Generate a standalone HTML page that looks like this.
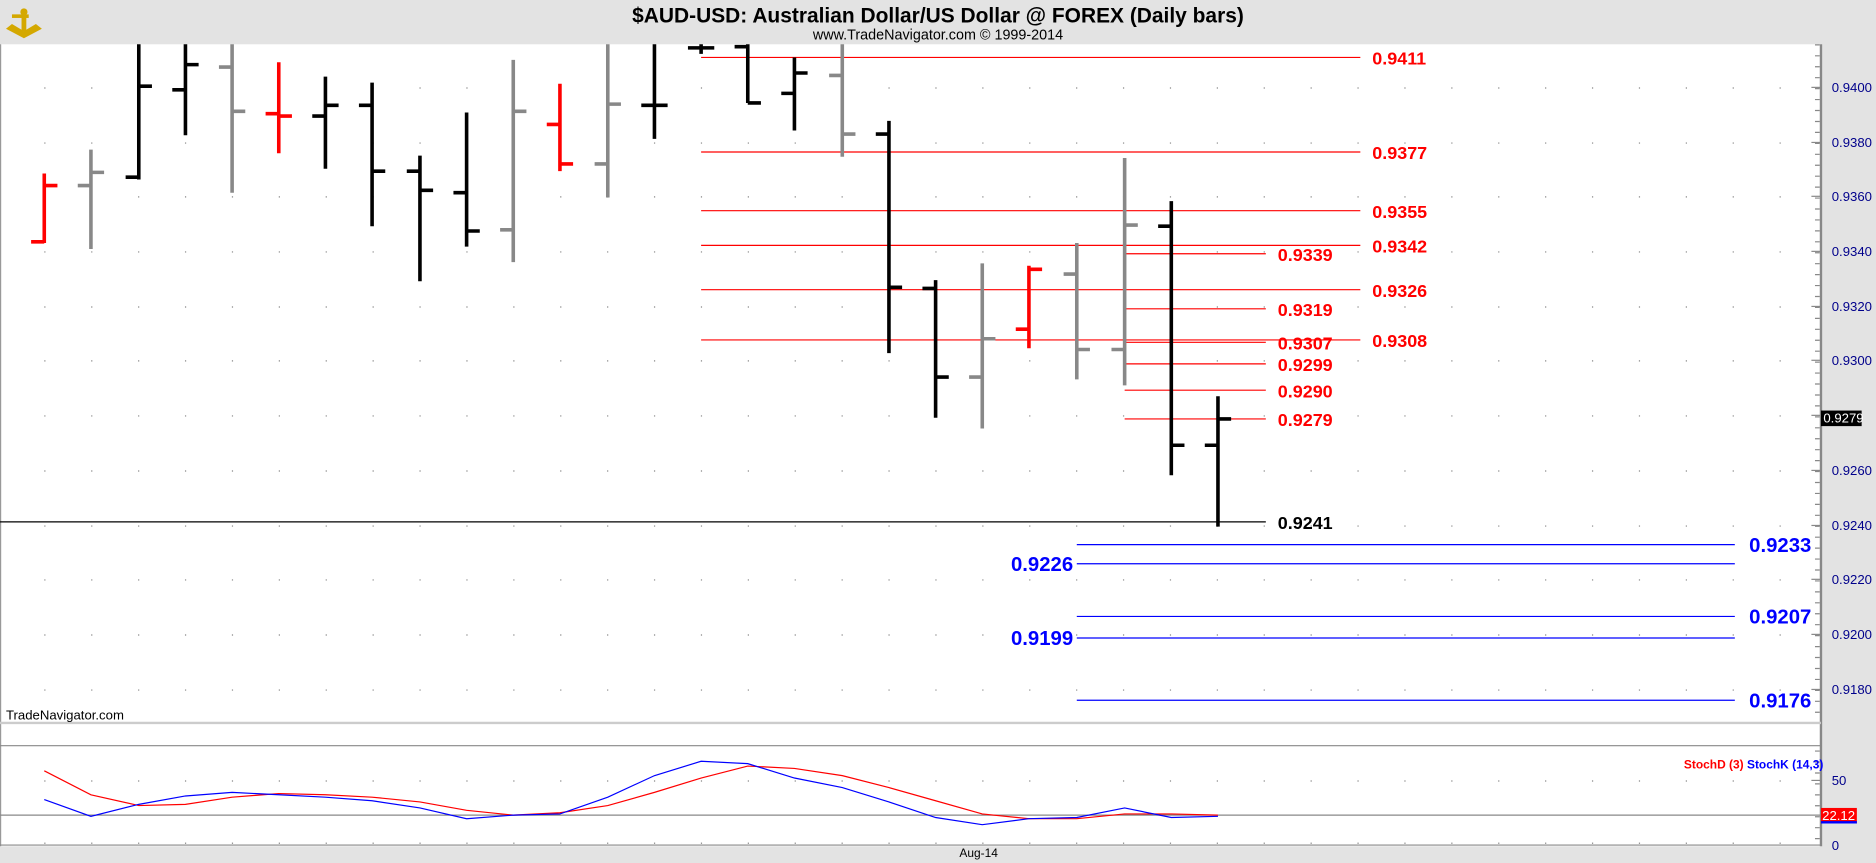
<!DOCTYPE html>
<html><head><meta charset="utf-8"><style>html,body{margin:0;padding:0;background:#e3e3e3;overflow:hidden}svg{display:block}</style></head><body>
<svg width="1876" height="863" viewBox="0 0 1568 721" preserveAspectRatio="none" xmlns="http://www.w3.org/2000/svg" font-family="Liberation Sans, sans-serif">
<rect x="0" y="0" width="1568" height="721" fill="#e3e3e3"/>
<rect x="0" y="37" width="1522" height="670" fill="#fff"/>
<line x1="0.5" y1="37" x2="0.5" y2="707" stroke="#999"/>
<line x1="1522" y1="37" x2="1522" y2="707" stroke="#888" stroke-width="2"/>
<line x1="0" y1="604" x2="1522" y2="604" stroke="#ccc" stroke-width="2"/>
<line x1="0" y1="623" x2="1522" y2="623" stroke="#888"/>
<line x1="0" y1="706" x2="1522" y2="706" stroke="#888"/>
<text x="784" y="19" text-anchor="middle" font-size="17.5" font-weight="bold">$AUD-USD:  Australian Dollar/US Dollar @ FOREX  (Daily bars)</text>
<text x="784" y="33" text-anchor="middle" font-size="12">www.TradeNavigator.com © 1999-2014</text>
<g fill="#d4a800"><circle cx="20" cy="10" r="3"/><rect x="18" y="10" width="4" height="16"/><rect x="10" y="12" width="14" height="3"/><polygon points="5,24 20,32 35,24 30,20 20,26 10,20"/></g>
<g stroke="#999" stroke-width="1.2" stroke-dasharray="1 38.2" fill="none">
<line x1="37" y1="73.5" x2="1522" y2="73.5"/><line x1="37" y1="119.5" x2="1522" y2="119.5"/><line x1="37" y1="164.5" x2="1522" y2="164.5"/><line x1="37" y1="210.5" x2="1522" y2="210.5"/><line x1="37" y1="256.5" x2="1522" y2="256.5"/><line x1="37" y1="301.5" x2="1522" y2="301.5"/><line x1="37" y1="347.5" x2="1522" y2="347.5"/><line x1="37" y1="393.5" x2="1522" y2="393.5"/><line x1="37" y1="439.5" x2="1522" y2="439.5"/><line x1="37" y1="484.5" x2="1522" y2="484.5"/><line x1="37" y1="530.5" x2="1522" y2="530.5"/><line x1="37" y1="576.5" x2="1522" y2="576.5"/><line x1="37" y1="652.5" x2="1522" y2="652.5"/><line x1="37" y1="704.5" x2="1522" y2="704.5"/>
</g>
<g font-size="11" fill="#00008b">
<text x="1531" y="77">0.9400</text><text x="1531" y="123">0.9380</text><text x="1531" y="168">0.9360</text><text x="1531" y="214">0.9340</text><text x="1531" y="260">0.9320</text><text x="1531" y="305">0.9300</text><text x="1531" y="397">0.9260</text><text x="1531" y="443">0.9240</text><text x="1531" y="488">0.9220</text><text x="1531" y="534">0.9200</text><text x="1531" y="580">0.9180</text>
<text x="1531" y="656">50</text><text x="1531" y="710">0</text>
</g>
<g stroke="#888" stroke-dasharray="1 8.14"><line x1="1519" y1="37" x2="1519" y2="602" stroke-width="4"/><line x1="1519" y1="627" x2="1519" y2="704" stroke-width="4"/></g>
<g stroke="#888"><line x1="1514" y1="73" x2="1522" y2="73"/><line x1="1514" y1="119" x2="1522" y2="119"/><line x1="1514" y1="164" x2="1522" y2="164"/><line x1="1514" y1="210" x2="1522" y2="210"/><line x1="1514" y1="256" x2="1522" y2="256"/><line x1="1514" y1="301" x2="1522" y2="301"/><line x1="1514" y1="347" x2="1522" y2="347"/><line x1="1514" y1="393" x2="1522" y2="393"/><line x1="1514" y1="439" x2="1522" y2="439"/><line x1="1514" y1="484" x2="1522" y2="484"/><line x1="1514" y1="530" x2="1522" y2="530"/><line x1="1514" y1="576" x2="1522" y2="576"/><line x1="1514" y1="652" x2="1522" y2="652"/></g>
<rect x="1522" y="343" width="34" height="13" fill="#000"/><text x="1524" y="353" font-size="11" fill="#fff">0.9279</text>
<rect x="1522" y="675" width="30" height="13" fill="#f00"/><rect x="1522" y="686" width="30" height="2" fill="#00f"/><text x="1523" y="685" font-size="11" fill="#fff">22.12</text>
<g stroke="#f00" stroke-width="1">
<line x1="586" y1="48" x2="1137" y2="48"/><line x1="586" y1="127" x2="1137" y2="127"/><line x1="586" y1="176" x2="1137" y2="176"/><line x1="586" y1="205" x2="1137" y2="205"/><line x1="586" y1="242" x2="1137" y2="242"/><line x1="586" y1="284" x2="1137" y2="284"/>
<line x1="940" y1="212" x2="1058" y2="212"/><line x1="940" y1="258" x2="1058" y2="258"/><line x1="940" y1="286" x2="1058" y2="286"/><line x1="940" y1="304" x2="1058" y2="304"/><line x1="940" y1="326" x2="1058" y2="326"/><line x1="940" y1="350" x2="1058" y2="350"/>
</g>
<line x1="0" y1="436" x2="1058" y2="436" stroke="#000"/>
<g stroke="#00f"><line x1="900" y1="455" x2="1450" y2="455"/><line x1="900" y1="471" x2="1450" y2="471"/><line x1="900" y1="515" x2="1450" y2="515"/><line x1="900" y1="533" x2="1450" y2="533"/><line x1="900" y1="585" x2="1450" y2="585"/></g>
<g font-weight="bold" font-size="15" fill="#f00">
<text x="1147" y="54">0.9411</text><text x="1147" y="133">0.9377</text><text x="1147" y="182">0.9355</text><text x="1147" y="211">0.9342</text><text x="1147" y="248">0.9326</text><text x="1147" y="290">0.9308</text>
<text x="1068" y="218">0.9339</text><text x="1068" y="264">0.9319</text><text x="1068" y="292">0.9307</text><text x="1068" y="310">0.9299</text><text x="1068" y="332">0.9290</text><text x="1068" y="356">0.9279</text>
<text x="1068" y="442" fill="#000">0.9241</text></g>
<g font-weight="bold" font-size="17" fill="#00f">
<text x="1462" y="461">0.9233</text><text x="845" y="477">0.9226</text><text x="1462" y="521">0.9207</text><text x="845" y="539">0.9199</text><text x="1462" y="591">0.9176</text></g>
<g stroke-width="3" fill="none">
<path stroke="#f00" d="M37 145V203M26 202H37M37 155H48"/>
<path stroke="#888" d="M76 125V208M65 155H76M76 144H87"/>
<path stroke="#000" d="M116 37V150M105 148H116M116 72H127"/>
<path stroke="#000" d="M155 37V113M144 75H155M155 54H166"/>
<path stroke="#888" d="M194 37V161M183 56H194M194 93H205"/>
<path stroke="#f00" d="M233 52V128M222 95H233M233 97H244"/>
<path stroke="#000" d="M272 64V141M261 97H272M272 88H283"/>
<path stroke="#000" d="M311 69V189M300 88H311M311 143H322"/>
<path stroke="#000" d="M351 130V235M340 143H351M351 159H362"/>
<path stroke="#000" d="M390 94V206M379 161H390M390 193H401"/>
<path stroke="#888" d="M429 50V219M418 192H429M429 93H440"/>
<path stroke="#f00" d="M468 70V143M457 104H468M468 137H479"/>
<path stroke="#888" d="M508 37V165M497 137H508M508 87H519"/>
<path stroke="#000" d="M547 37V116M536 88H547M547 88H558"/>
<path stroke="#000" d="M586 37V45M575 40H586M586 40H597"/>
<path stroke="#000" d="M625 37V86M614 39H625M625 86H636"/>
<path stroke="#000" d="M664 48V109M653 78H664M664 61H675"/>
<path stroke="#888" d="M704 37V131M693 63H704M704 112H715"/>
<path stroke="#000" d="M743 101V295M732 112H743M743 240H754"/>
<path stroke="#000" d="M782 234V349M771 241H782M782 315H793"/>
<path stroke="#888" d="M821 220V358M810 315H821M821 283H832"/>
<path stroke="#f00" d="M860 222V291M849 275H860M860 225H871"/>
<path stroke="#888" d="M900 203V317M889 229H900M900 292H911"/>
<path stroke="#888" d="M940 132V322M929 292H940M940 188H951"/>
<path stroke="#000" d="M979 168V397M968 189H979M979 372H990"/>
<path stroke="#000" d="M1018 331V440M1007 372H1018M1018 350H1029"/>
</g>
<text x="5" y="601" font-size="11">TradeNavigator.com</text>
<text x="1524" y="642" font-size="10" font-weight="bold" fill="#00f" text-anchor="end"><tspan fill="#f00">StochD (3)</tspan>   StochK (14,3)</text>
<line x1="0" y1="681" x2="1522" y2="681" stroke="#888"/>
<polyline fill="none" stroke="#f00" points="37,644 76,664 116,673 155,672 194,666 233,663 272,664 311,666 351,670 390,677 429,681 468,679 508,673 547,662 586,650 625,640 664,642 704,648 743,658 782,669 821,680 860,684 900,684 940,680 979,680 1018,681"/>
<polyline fill="none" stroke="#00f" points="37,668 76,682 116,672 155,665 194,662 233,664 272,666 311,669 351,675 390,684 429,681 468,680 508,666 547,648 586,636 625,638 664,650 704,658 743,670 782,683 821,689 860,684 900,683 940,675 979,683 1018,682"/>
<text x="818" y="716" font-size="10" text-anchor="middle">Aug-14</text>
</svg>
</body></html>
